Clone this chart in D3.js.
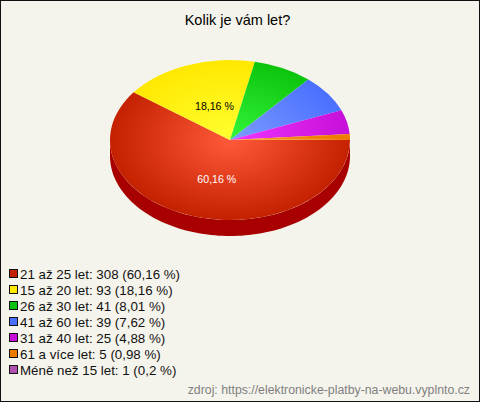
<!DOCTYPE html>
<html><head><meta charset="utf-8">
<script src="https://cdn.jsdelivr.net/npm/d3@7"></script>
<style>html,body{margin:0;padding:0;background:#fff}svg{display:block}text{font-family:"Liberation Sans",Arial,sans-serif}</style>
</head><body><svg id="c" width="480" height="402"></svg>
<script>
const categories=["21 až 25 let","15 až 20 let","26 až 30 let","41 až 60 let","31 až 40 let","61 a více let","Méně než 15 let"];
const values=[308,93,41,39,25,5,1];
const percents=["60,16","18,16","8,01","7,62","4,88","0,98","0,2"];
const colors=["#c42100","#ffe800","#0cc40c","#4a70ff","#c60fd8","#ee7a00","#b050b0"];
const lights=["#ff5a3a","#ffff30","#33f53a","#7b9bff","#f035ff","#ff9a20","#d070d0"];
const sideColors=["#a80000","#c4b000","#089008","#3050c0","#900aa0","#b05a00","#803880"];
const faceGradients=[0,1,2,3,4,5,5]; // the thinnest sliver shows as orange on the pie face
const title="Kolik je vám let?";
const source="zdroj: https://elektronicke-platby-na-webu.vyplnto.cz";

const svg=d3.select("#c");
svg.append("rect").attr("x",0.5).attr("y",0.5).attr("width",479).attr("height",401)
  .attr("fill","#f5f4ec").attr("stroke","#111");
svg.append("text").attr("x",237.5).attr("y",25).attr("text-anchor","middle").attr("font-size",14.5).attr("fill","#000").text(title);

const cx=230,cy=140,rx=120,ry=80,depth=16;
const defs=svg.append("defs");
colors.forEach((c,i)=>{
  const g=defs.append("radialGradient").attr("id","g"+i).attr("gradientUnits","userSpaceOnUse")
    .attr("cx",0).attr("cy",0).attr("r",rx);
  g.append("stop").attr("offset",0).attr("stop-color",lights[i]);
  g.append("stop").attr("offset",1).attr("stop-color",c);
});
// d3 angle 0 is north, clockwise; chart starts at east
const pie=d3.pie().value(d=>d).sort(null).startAngle(Math.PI/2).endAngle(Math.PI/2+2*Math.PI);
const arcs=pie(values);
const arc=d3.arc().innerRadius(0).outerRadius(rx);
const px=a=>cx+rx*Math.sin(a), py=a=>cy-ry*Math.cos(a);

// side wall: only the front half (east to west through south)
const side=d3.area().x(a=>px(a)).y0(a=>py(a)).y1(a=>py(a)+depth);
arcs.forEach((d,i)=>{
  const a0=Math.max(d.startAngle,Math.PI/2), a1=Math.min(d.endAngle,3*Math.PI/2);
  if(a1<=a0) return;
  svg.append("path").attr("fill",sideColors[i]).attr("d",side(d3.range(0,101).map(k=>a0+(a1-a0)*k/100)));
});
const face=svg.append("g").attr("transform",`translate(${cx},${cy}) scale(1,${ry/rx})`);
face.selectAll("path").data(arcs).join("path").attr("d",arc).attr("fill",(d,i)=>`url(#g${faceGradients[i]})`);

// value labels on the two big slices
[0,1].forEach(i=>{
  const m=(arcs[i].startAngle+arcs[i].endAngle)/2;
  svg.append("text").attr("x",cx+rx*0.484*Math.sin(m)+5).attr("y",cy-ry*0.484*Math.cos(m)+6)
    .attr("text-anchor","middle").attr("font-size",10.6).attr("fill",i==0?"#fff":"#000").text(percents[i]+" %");
});

const leg=d3.scalePoint().domain(categories).range([274,370]);
const rows=svg.append("g").selectAll("g").data(categories).join("g").attr("transform",d=>`translate(0,${leg(d)})`);
rows.append("rect").attr("x",9.5).attr("y",-4.5).attr("width",8).attr("height",8)
  .attr("fill",(d,i)=>colors[i]).attr("stroke","#111");
rows.append("text").attr("x",20).attr("y",4.5).attr("font-size",13.33).attr("fill","#111")
  .text((d,i)=>`${d}: ${values[i]} (${percents[i]} %)`);
svg.append("text").attr("x",470).attr("y",394).attr("text-anchor","end").attr("font-size",12.3).attr("fill","#808080").text(source);
</script></body></html>
